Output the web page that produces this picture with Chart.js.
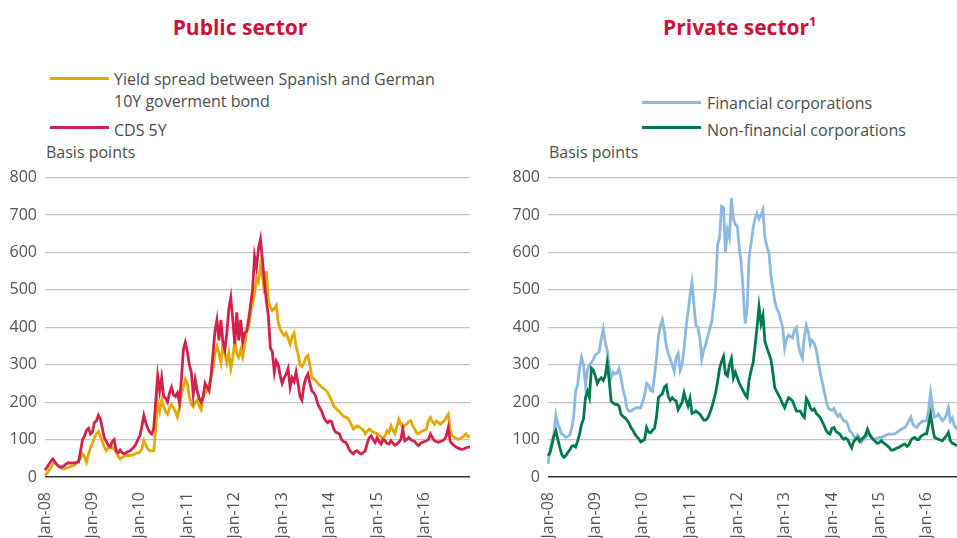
<!DOCTYPE html>
<html>
<head>
<meta charset="utf-8">
<script src="https://cdn.jsdelivr.net/npm/chart.js@4.4.1/dist/chart.umd.min.js"></script>
<style>
	body { margin: 0; width: 957px; height: 538px; overflow: hidden; position: relative; background: #fff; font-family: "Open Sans", sans-serif; color: #4d4d4d; }
	.title { position: absolute; top: 12px; font-size: 21px; font-weight: bold; color: #d0103a; line-height: 30px; white-space: nowrap; }
	.title sup { font-size: 13px; vertical-align: 9px; line-height: 0; }
	.lgLine { position: absolute; height: 3px; width: 59px; }
	.lgText { position: absolute; font-size: 16px; line-height: 22px; white-space: nowrap; }
	.unit { position: absolute; top: 141px; font-size: 16px; line-height: 22px; }
	.chartBox { position: absolute; top: 160px; width: 480px; height: 420px; }
</style>
</head>
<body>

<div class="title" style="left:0;width:480px;text-align:center;">Public sector</div>
<div class="lgLine" style="left:50px;top:77px;background:#e2aa00;"></div>
<div class="lgText" style="left:114px;top:68px;">Yield spread between Spanish and German<br>10Y goverment bond</div>
<div class="lgLine" style="left:50px;top:126px;background:#d2214a;"></div>
<div class="lgText" style="left:114px;top:119px;">CDS 5Y</div>
<div class="unit" style="left:46px;">Basis points</div>

<div class="title" style="left:663px;">Private sector<sup>1</sup></div>
<div class="lgLine" style="left:642px;top:101px;background:#8cb9e1;"></div>
<div class="lgText" style="left:707px;top:92px;">Financial corporations</div>
<div class="lgLine" style="left:642px;top:126px;background:#007a4b;"></div>
<div class="lgText" style="left:707px;top:119px;">Non-financial corporations</div>
<div class="unit" style="left:549px;">Basis points</div>

<div class="chartBox" style="left:0;"><canvas id="publicChart" width="480" height="420"></canvas></div>
<div class="chartBox" style="left:503px;"><canvas id="privateChart" width="480" height="420"></canvas></div>

<script>
// half-monthly observations, Jan-08 .. Dec-16 (24 per year)
const tickLabels = ["Jan-08", "Jan-09", "Jan-10", "Jan-11", "Jan-12", "Jan-13", "Jan-14", "Jan-15", "Jan-16"];
const periods = [];
for (let y = 2008; y <= 2016; y++) {
	for (let m = 1; m <= 12; m++) {
		periods.push(y + "-" + m + "-01");
		periods.push(y + "-" + m + "-16");
	}
}

// Public sector
const cds5y = [
	18, 26, 34, 42, 48, 40, 33, 28, 26, 28, 32, 36, 38, 37, 38, 38, 39, 40, 70, 100, 110, 125, 130, 115,
	120, 145, 150, 165, 155, 130, 105, 95, 85, 80, 95, 100, 70, 65, 72, 65, 62, 65, 68, 70, 75, 80, 88, 100,
	110, 135, 165, 145, 130, 120, 115, 130, 200, 270, 230, 265, 215, 210, 200, 225, 240, 220, 215, 225, 200, 260, 340, 360,
	335, 300, 280, 220, 260, 230, 210, 200, 215, 250, 240, 230, 270, 330, 390, 420, 365, 420, 360, 340, 385, 450, 480, 420,
	355, 440, 365, 420, 360, 385, 390, 420, 460, 500, 590, 560, 610, 635, 580, 520, 470, 430, 345, 335, 280, 310, 300, 270,
	250, 265, 275, 290, 240, 265, 255, 280, 250, 215, 205, 245, 265, 275, 250, 230, 225, 215, 195, 185, 175, 160, 150, 145,
	150, 148, 130, 120, 118, 115, 100, 95, 93, 85, 72, 66, 62, 68, 70, 64, 62, 66, 70, 90, 105, 110, 100, 92,
	105, 95, 88, 100, 97, 90, 88, 97, 90, 85, 88, 93, 100, 128, 97, 100, 106, 100, 97, 95, 88, 84, 90, 93,
	95, 97, 100, 115, 105, 97, 95, 93, 95, 97, 100, 110, 132, 95, 88, 84, 80, 77, 75, 74, 75, 78, 80, 80
];
const yieldSpread = [
	5, 10, 18, 25, 35, 40, 33, 30, 25, 22, 22, 24, 26, 28, 30, 32, 38, 44, 50, 62, 55, 40, 60, 78,
	90, 105, 115, 122, 108, 95, 80, 70, 78, 84, 78, 75, 65, 55, 48, 52, 55, 57, 58, 57, 58, 60, 63, 65,
	66, 75, 97, 85, 75, 70, 70, 70, 130, 200, 175, 205, 190, 175, 168, 185, 194, 185, 175, 160, 185, 220, 240, 260,
	250, 215, 195, 188, 200, 205, 190, 180, 215, 225, 230, 245, 270, 290, 330, 350, 330, 305, 355, 330, 305, 330, 290, 320,
	362, 330, 320, 340, 320, 350, 388, 400, 440, 460, 490, 530, 520, 565, 540, 490, 550, 470, 455, 445, 450, 459, 414, 395,
	385, 378, 385, 370, 355, 375, 385, 350, 330, 300, 295, 305, 320, 325, 300, 265, 262, 258, 250, 245, 240, 236, 232, 226,
	215, 205, 190, 185, 178, 175, 168, 162, 160, 158, 150, 140, 128, 132, 137, 133, 130, 125, 115, 122, 128, 124, 120, 118,
	116, 112, 108, 101, 110, 123, 118, 137, 125, 115, 135, 154, 140, 132, 138, 141, 148, 150, 138, 128, 118, 115, 120, 123,
	125, 128, 150, 159, 148, 141, 150, 145, 141, 146, 150, 160, 168, 123, 110, 106, 103, 101, 103, 106, 110, 115, 108, 110
];

// Private sector (series visible up to about Sep-16)
const financialCorp = [
	35, 70, 95, 115, 165, 140, 128, 115, 112, 106, 108, 112, 130, 160, 230, 245, 290, 320, 300, 245, 285, 300, 305, 315,
	326, 330, 335, 370, 395, 360, 340, 295, 265, 280, 275, 278, 290, 265, 235, 215, 185, 176, 176, 180, 183, 185, 185, 185,
	200, 220, 250, 245, 232, 229, 270, 317, 375, 405, 420, 390, 350, 330, 315, 300, 282, 320, 330, 285, 300, 344, 400, 440,
	485, 520, 460, 405, 400, 370, 315, 340, 355, 375, 395, 414, 460, 510, 620, 640, 723, 720, 600, 660, 640, 745, 690, 675,
	670, 610, 570, 494, 410, 450, 590, 625, 665, 690, 705, 690, 700, 714, 640, 615, 600, 540, 505, 470, 450, 440, 420, 400,
	345, 370, 379, 375, 372, 395, 400, 353, 330, 317, 375, 405, 388, 353, 365, 358, 340, 309, 280, 255, 230, 205, 185, 180,
	178, 183, 170, 162, 168, 158, 150, 150, 140, 123, 118, 110, 100, 112, 105, 93, 100, 106, 113, 110, 106, 100, 100, 105,
	106, 106, 108, 110, 113, 115, 114, 115, 115, 120, 123, 127, 130, 132, 140, 150, 160, 141, 135, 132, 141, 145, 150, 150,
	150, 180, 225, 185, 160, 162, 168, 158, 150, 155, 165, 185, 150, 158, 138, 130, 128
];
const nonFinancialCorp = [
	57, 65, 85, 110, 123, 100, 79, 60, 53, 57, 65, 72, 82, 84, 80, 95, 115, 140, 155, 212, 229, 212, 291, 285,
	270, 250, 260, 265, 258, 270, 305, 260, 203, 198, 194, 194, 190, 168, 162, 158, 152, 145, 133, 125, 115, 108, 102, 94,
	97, 100, 132, 120, 118, 125, 130, 160, 212, 218, 222, 240, 245, 215, 205, 212, 206, 203, 180, 190, 200, 225, 205, 190,
	210, 170, 172, 176, 172, 168, 160, 152, 152, 158, 170, 185, 205, 225, 255, 290, 309, 322, 275, 270, 300, 317, 265, 280,
	265, 250, 240, 230, 220, 213, 260, 285, 305, 350, 400, 455, 410, 432, 362, 345, 330, 315, 280, 238, 228, 218, 208, 195,
	185, 200, 212, 208, 203, 190, 176, 176, 176, 165, 159, 210, 200, 185, 178, 182, 170, 165, 159, 148, 138, 125, 118, 115,
	130, 132, 122, 118, 115, 106, 101, 104, 100, 88, 78, 95, 101, 105, 95, 100, 106, 112, 128, 115, 106, 100, 95, 90,
	92, 97, 92, 88, 84, 79, 72, 72, 75, 78, 79, 83, 86, 88, 82, 86, 98, 104, 106, 100, 100, 108, 112, 115,
	115, 141, 168, 132, 106, 103, 101, 99, 97, 104, 110, 119, 97, 90, 88, 85, 84
];

function makeOptions(padRight) {
	return {
		responsive: false,
		animation: false,
		maintainAspectRatio: false,
		layout: {
			padding: { top: 14, right: padRight, bottom: 0, left: 0 }
		},
		plugins: {
			legend: { display: false },
			tooltip: { enabled: false }
		},
		elements: {
			point: { radius: 0 },
			line: { borderWidth: 2.8, tension: 0 }
		},
		scales: {
			x: {
				type: "category",
				grid: { display: false, drawTicks: false },
				border: { display: false },
				ticks: {
					autoSkip: false,
					minRotation: 90,
					maxRotation: 90,
					padding: 15,
					color: "#555",
					font: { family: "Open Sans", size: 16 },
					callback: function(value, index) {
						return index % 24 === 0 ? tickLabels[index / 24] : null;
					}
				},
				afterFit: function(scale) {
					scale.height = 103;
				}
			},
			y: {
				min: 0,
				max: 800,
				border: { display: false },
				grid: {
					drawTicks: false,
					color: function(ctx) {
						return ctx.tick && ctx.tick.value === 0 ? "#333" : "#c4c4c4";
					},
					lineWidth: function(ctx) {
						return ctx.tick && ctx.tick.value === 0 ? 1.6 : 1.2;
					}
				},
				ticks: {
					stepSize: 100,
					padding: 8,
					color: "#555",
					font: { family: "Open Sans", size: 16 }
				},
				afterFit: function(scale) {
					scale.width = 45;
				}
			}
		}
	};
}

new Chart(document.getElementById("publicChart").getContext("2d"), {
	type: "line",
	data: {
		labels: periods,
		datasets: [
			{ label: "CDS 5Y", data: cds5y, borderColor: "#d2214a", order: 1 },
			{ label: "Yield spread between Spanish and German 10Y goverment bond", data: yieldSpread, borderColor: "#e2aa00", order: 2 }
		]
	},
	options: makeOptions(10)
});

new Chart(document.getElementById("privateChart").getContext("2d"), {
	type: "line",
	data: {
		labels: periods,
		datasets: [
			{ label: "Non-financial corporations", data: nonFinancialCorp, borderColor: "#007a4b", order: 1 },
			{ label: "Financial corporations", data: financialCorp, borderColor: "#8cb9e1", order: 2 }
		]
	},
	options: makeOptions(11)
});
</script>
</body>
</html>
